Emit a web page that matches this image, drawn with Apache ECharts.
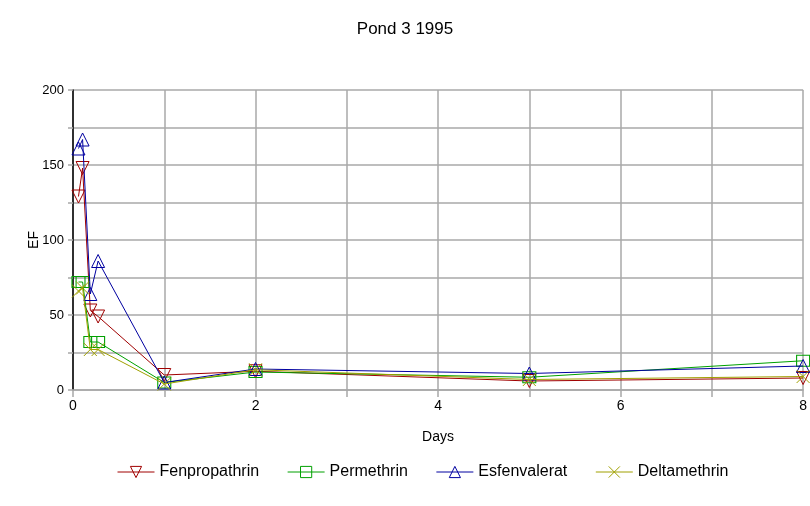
<!DOCTYPE html>
<html>
<head>
<meta charset="utf-8">
<script src="https://cdn.jsdelivr.net/npm/echarts@6/dist/echarts.min.js"></script>
<style>
  html, body { margin: 0; padding: 0; background: #fff; }
  #chart { width: 810px; height: 506px; }
</style>
</head>
<body>
<div id="chart"></div>
<script>
// Sampling times (days after application)
const days = [0.06, 0.105, 0.19, 0.275, 1, 2, 5, 8];

// EF values per pyrethroid
const fenpropathrin = [129, 148, 53, 49, 10, 12.5, 6, 8];
const permethrin    = [72, 72, 32, 32, 5, 12, 8.5, 19.5];
const esfenvalerat  = [161, 167, 64, 86, 5, 14, 11, 16];
const deltamethrin  = [66, 68, 27, 27, 4, 13.5, 7, 9];

const seriesNames = ['Fenpropathrin', 'Permethrin', 'Esfenvalerat', 'Deltamethrin'];
const seriesColors = ['#a00000', '#00a000', '#0000a0', '#a0a000'];
const seriesSymbols = [
  'path://M0,0L10,0L5,9Z',
  'path://M0,0L10,0L10,8L0,8Z',
  'path://M5,0L10,9L0,9Z',
  'path://M0,0L10,10M10,0L0,10'
];
const seriesValues = [fenpropathrin, permethrin, esfenvalerat, deltamethrin];

const xTickLabels = ['0', '2', '4', '6', '8'];
const yTickLabels = ['0', '50', '100', '150', '200'];

const chart = echarts.init(document.getElementById('chart'));
const font = 'Liberation Sans, Arial, sans-serif';
const gridGray = '#a8a8a8';

chart.setOption({
  animation: false,
  backgroundColor: '#ffffff',
  title: {
    text: 'Pond 3 1995',
    left: 'center',
    top: 16,
    textStyle: { fontFamily: font, fontSize: 17, fontWeight: 'normal', color: '#000' }
  },
  legend: {
    top: 459,
    left: 112,
    itemWidth: 37,
    itemHeight: 14,
    itemGap: 28,
    textStyle: { fontFamily: font, fontSize: 16, color: '#000' },
    itemStyle: { color: 'transparent', borderColor: 'inherit', borderWidth: 1 },
    lineStyle: { width: 1 },
    data: seriesNames
  },
  grid: { left: 73, right: 5, top: 90, bottom: 116, containLabel: false },
  xAxis: {
    type: 'value',
    min: 0, max: 8, interval: 1,
    name: 'Days',
    nameLocation: 'middle',
    nameGap: 40,
    nameTextStyle: { fontFamily: font, fontSize: 14, color: '#000' },
    axisLine: { show: true, onZero: false, lineStyle: { color: gridGray, width: 1.5 } },
    axisTick: { show: true, length: 7, lineStyle: { color: gridGray, width: 1.5 } },
    splitLine: { show: true, lineStyle: { color: gridGray, width: 1.5 } },
    axisLabel: {
      fontFamily: font, fontSize: 14, color: '#000', margin: 9,
      formatter: v => xTickLabels.includes(String(v)) ? String(v) : ''
    }
  },
  yAxis: {
    type: 'value',
    min: 0, max: 200, interval: 25,
    name: 'EF',
    nameLocation: 'middle',
    nameGap: 32,
    nameMoveOverlap: false,
    nameTextStyle: { fontFamily: font, fontSize: 14, color: '#000' },
    axisLine: { show: true, lineStyle: { color: '#000', width: 1.5 } },
    axisTick: { show: true, length: 5, lineStyle: { color: gridGray, width: 1.5 } },
    splitLine: { show: true, lineStyle: { color: gridGray, width: 1.5 } },
    axisLabel: {
      fontFamily: font, fontSize: 13, color: '#000', margin: 9,
      formatter: v => yTickLabels.includes(String(v)) ? String(v) : ''
    }
  },
  series: seriesNames.map((name, i) => ({
    name,
    type: 'line',
    data: days.map((d, j) => [d, seriesValues[i][j]]),
    symbol: seriesSymbols[i],
    symbolSize: i === 1 ? [13, 11] : 13,
    showSymbol: true,
    lineStyle: { color: seriesColors[i], width: 1 },
    itemStyle: { color: 'transparent', borderColor: seriesColors[i], borderWidth: 1 },
    emphasis: { disabled: true },
    z: 2 + i
  }))
});
</script>
</body>
</html>
